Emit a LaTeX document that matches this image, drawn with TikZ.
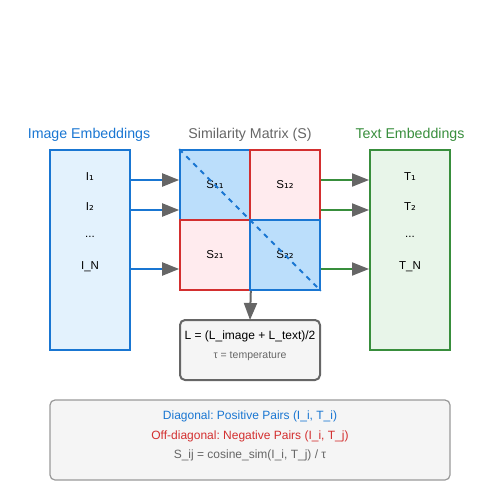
\documentclass[tikz,border=0pt]{standalone}
\usepackage{fontspec}
\setmainfont{Liberation Sans}
\newfontfamily\subfont{DejaVu Sans}
\usetikzlibrary{arrows.meta}
\definecolor{iblue}{HTML}{1976D2}
\definecolor{ibluefill}{HTML}{E3F2FD}
\definecolor{cellblue}{HTML}{BBDEFB}
\definecolor{tgreen}{HTML}{388E3C}
\definecolor{tgreenfill}{HTML}{E8F5E9}
\definecolor{nred}{HTML}{D32F2F}
\definecolor{nredfill}{HTML}{FFEBEE}
\definecolor{darkgray}{HTML}{666666}
\definecolor{lightbg}{HTML}{F5F5F5}
\definecolor{bordergray}{HTML}{999999}
\newcommand{\subdig}[1]{{\subfont\fontsize{12}{14}\selectfont #1}}
\frenchspacing
\begin{document}
\begin{tikzpicture}[x=1pt,y=-1pt,
  title/.style={font=\fontsize{14.2}{16}\selectfont, inner sep=0},
  lbl/.style={font=\fontsize{11.5}{13}\selectfont, text=black, inner sep=0},
  embbox/.style={line width=2pt, minimum width=80pt, minimum height=200pt, inner sep=0},
  poscell/.style={draw=iblue, fill=cellblue, line width=1.6pt, minimum size=70pt, inner sep=0, font=\fontsize{11.5}{13}\selectfont},
  negcell/.style={draw=nred, fill=nredfill, line width=1.6pt, minimum size=70pt, inner sep=0, font=\fontsize{11.5}{13}\selectfont},
  tip/.style={-{Triangle[length=17pt,width=13pt,color=darkgray]}},
  bluearr/.style={tip, draw=iblue, line width=2pt},
  greenarr/.style={tip, draw=tgreen, line width=2pt},
  grayarr/.style={tip, draw=darkgray, line width=2pt},
  note/.style={font=\fontsize{12}{14}\selectfont, inner sep=0}
]
\useasboundingbox (0,0) rectangle (500,500);

% titles
\node[title, text=iblue] (timg) at (89,135) {Image Embeddings};
\node[title, text=darkgray] (tsim) at (250,135) {Similarity Matrix (S)};
\node[title, text=tgreen] (ttxt) at (410,135) {Text Embeddings};

% embedding boxes
\node[embbox, draw=iblue, fill=ibluefill] (img) at (90,250) {};
\node[embbox, draw=tgreen, fill=tgreenfill] (txt) at (410,250) {};

\node[lbl] (i1) at (90,176.5) {I\subdig{₁}};
\node[lbl] (i2) at (90,206.5) {I\subdig{₂}};
\node[lbl] (idots) at (90,237) {...};
\node[lbl] (iN) at (90,266.5) {I\_N};

\node[lbl] (t1) at (410,176.5) {T\subdig{₁}};
\node[lbl] (t2) at (410,206.5) {T\subdig{₂}};
\node[lbl] (tdots) at (410,237) {...};
\node[lbl] (tN) at (410,266.5) {T\_N};

% matrix
\node[poscell] (m11) at (215,185) {S\subdig{₁₁}};
\node[negcell] (m12) at (285,185) {S\subdig{₁₂}};
\node[negcell] (m21) at (215,255) {S\subdig{₂₁}};
\node[poscell] (m22) at (285,255) {S\subdig{₂₂}};
\draw[iblue, line width=2pt, dash pattern=on 5pt off 5pt] (m11.north west) -- (m22.south east);

% arrow rows
\coordinate (r1) at (0,180);
\coordinate (r2) at (0,210);
\coordinate (r3) at (0,269);

\draw[bluearr] (img.east |- r1) -- (m11.west |- r1);
\draw[bluearr] (img.east |- r2) -- (m11.west |- r2);
\draw[bluearr] (img.east |- r3) -- (m21.west |- r3);

\draw[greenarr] (m12.east |- r1) -- (txt.west |- r1);
\draw[greenarr] (m12.east |- r2) -- (txt.west |- r2);
\draw[greenarr] (m22.east |- r3) -- (txt.west |- r3);

% loss box
\draw[darkgray, fill=lightbg, line width=2pt, rounded corners=5pt] (180,320) rectangle (320,380);
\coordinate (losstop) at (250,320);
\node[font=\fontsize{12}{14}\selectfont, inner sep=0] (loss) at (250,336.5) {L = (L\_image + L\_text)/2};
\node[font=\fontsize{10.5}{12}\selectfont, text=darkgray, inner sep=0] (tau) at (250,356.5) {τ = temperature};
\draw[grayarr] (m21.south east) -- (losstop);

% legend box
\draw[bordergray, fill=lightbg, line width=1.2pt, rounded corners=5pt] (50,400) rectangle (450,480);
\node[note, text=iblue] (n1) at (250,416) {Diagonal: Positive Pairs (I\_i, T\_i)};
\node[note, text=nred] (n2) at (250,436.5) {Off-diagonal: Negative Pairs (I\_i, T\_j)};
\node[note, text=darkgray] (n3) at (250,455.5) {S\_ij = cosine\_sim(I\_i, T\_j) / τ};
\end{tikzpicture}
\end{document}
